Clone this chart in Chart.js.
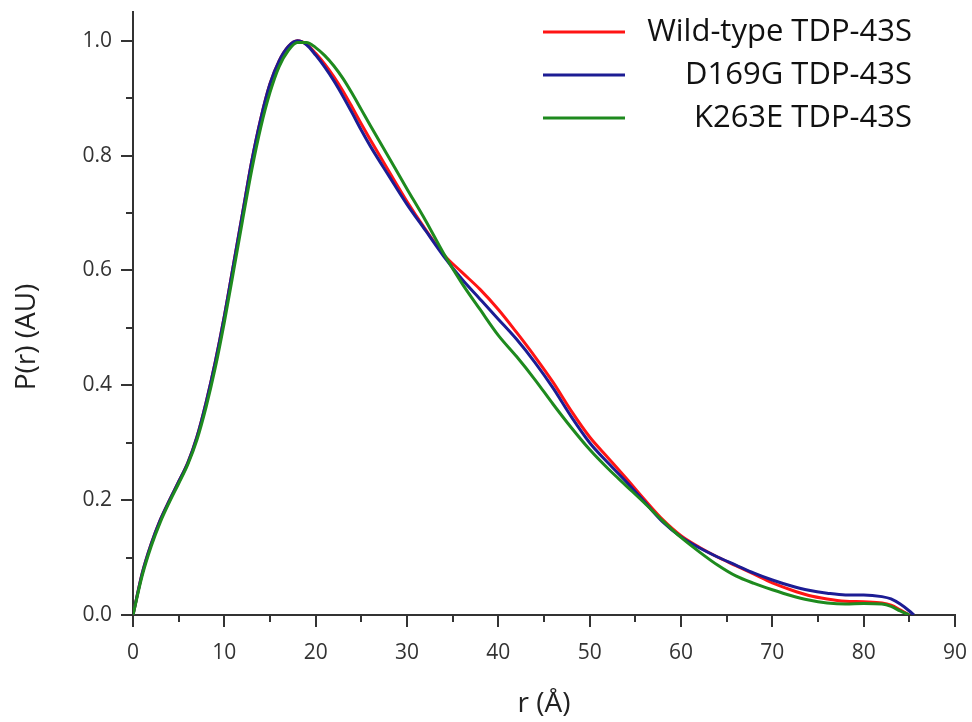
<!DOCTYPE html>
<html>
<head>
<meta charset="utf-8">
<script src="https://cdn.jsdelivr.net/npm/chart.js@4.4.0/dist/chart.umd.min.js"></script>
<style>
  html, body { margin: 0; padding: 0; background: #fff; }
  #wrap { width: 972px; height: 722px; }
</style>
</head>
<body>
<div id="wrap"><canvas id="prChart" width="972" height="722"></canvas></div>
<script>
// r values (Angstrom) shared by all three curves
var rGrid = [0, 1, 2, 3, 4, 5, 6, 7, 8, 9, 10, 11, 12, 13, 14, 15, 16, 17, 18, 19, 20,
  21, 22, 23, 24, 25, 26, 28, 30, 32, 34, 36, 38, 40, 42, 44, 46, 48, 50, 52, 54,
  56, 58, 60, 62, 64, 66, 68, 70, 72, 74, 76, 78, 80, 82, 83, 84, 85, 85.5];

// P(r)
var wildType = [0, 0.072, 0.124, 0.166, 0.2, 0.232, 0.265, 0.31, 0.37, 0.44, 0.52,
  0.61, 0.7, 0.79, 0.865, 0.925, 0.965, 0.99, 1.0, 0.994, 0.978,
  0.959, 0.937, 0.912, 0.884, 0.855, 0.827, 0.773, 0.72, 0.672, 0.628, 0.597, 0.567, 0.532, 0.492, 0.45, 0.405, 0.355, 0.31, 0.274, 0.238,
  0.201, 0.166, 0.138, 0.118, 0.101, 0.086, 0.071, 0.056, 0.044, 0.034, 0.028, 0.024, 0.023, 0.021, 0.017, 0.009, 0, null];

var d169g = [0, 0.072, 0.124, 0.166, 0.2, 0.232, 0.265, 0.31, 0.37, 0.44, 0.52,
  0.61, 0.7, 0.79, 0.865, 0.925, 0.965, 0.99, 1.0, 0.993, 0.975,
  0.954, 0.93, 0.903, 0.874, 0.844, 0.816, 0.765, 0.715, 0.67, 0.625, 0.585, 0.55, 0.515, 0.48, 0.44, 0.395, 0.345, 0.3, 0.265, 0.232,
  0.197, 0.162, 0.136, 0.117, 0.101, 0.087, 0.073, 0.061, 0.051, 0.043, 0.038, 0.035, 0.035, 0.032, 0.028, 0.019, 0.007, 0];

var k263e = [0, 0.068, 0.12, 0.162, 0.197, 0.229, 0.262, 0.305, 0.362, 0.43, 0.51,
  0.598, 0.688, 0.775, 0.85, 0.91, 0.955, 0.983, 0.997, 0.997, 0.988,
  0.974, 0.956, 0.934, 0.908, 0.88, 0.852, 0.797, 0.742, 0.688, 0.63, 0.578, 0.532, 0.487, 0.45, 0.41, 0.367, 0.326, 0.288, 0.255, 0.225,
  0.195, 0.164, 0.135, 0.11, 0.087, 0.068, 0.055, 0.044, 0.034, 0.026, 0.021, 0.019, 0.02, 0.019, 0.015, 0.007, 0, null];

var seriesNames = ["Wild-type TDP-43S", "D169G TDP-43S", "K263E TDP-43S"];
var seriesColors = ["#ff1414", "#1c1c94", "#1e8a1e"];

// minor tick positions
var xMinorTicks = [5, 15, 25, 35, 45, 55, 65, 75, 85];
var yMinorTicks = [0.1, 0.3, 0.5, 0.7, 0.9];

var axisColor = "#333333";
var fontFamily = "'Open Sans', 'Noto Sans', sans-serif";

function toPoints(values) {
  var pts = [];
  for (var i = 0; i < rGrid.length; i++) {
    if (values[i] !== null) pts.push({x: rGrid[i], y: values[i]});
  }
  return pts;
}

// draws minor ticks, the legend on the right and both axis titles
var extrasPlugin = {
  id: 'extras',
  afterDraw: function (chart) {
    var ctx = chart.ctx;
    var xs = chart.scales.x, ys = chart.scales.y;
    ctx.save();
    ctx.strokeStyle = axisColor;
    ctx.lineWidth = 2;
    ctx.beginPath();
    xMinorTicks.forEach(function (v) {
      var px = Math.round(xs.getPixelForValue(v));
      ctx.moveTo(px, xs.top);
      ctx.lineTo(px, xs.top + 7);
    });
    yMinorTicks.forEach(function (v) {
      var py = Math.round(ys.getPixelForValue(v));
      ctx.moveTo(ys.right, py);
      ctx.lineTo(ys.right - 7, py);
    });
    ctx.stroke();

    // legend
    ctx.font = "31px " + fontFamily;
    ctx.textAlign = "right";
    ctx.textBaseline = "middle";
    chart.data.datasets.forEach(function (ds, i) {
      var y = 32 + i * 43;
      ctx.strokeStyle = ds.borderColor;
      ctx.lineWidth = 3;
      ctx.beginPath();
      ctx.moveTo(543, y);
      ctx.lineTo(625, y);
      ctx.stroke();
      ctx.fillStyle = "#111";
      ctx.fillText(ds.label, 912, y);
    });

    // axis titles
    ctx.fillStyle = "#222";
    ctx.font = "28px " + fontFamily;
    ctx.textAlign = "center";
    ctx.fillText("r (Å)", 544, 704);
    ctx.translate(27, 337);
    ctx.rotate(-Math.PI / 2);
    ctx.fillText("P(r) (AU)", 0, 0);
    ctx.restore();
  }
};

var ctx_pr = document.getElementById("prChart").getContext("2d");
var datasets = [wildType, d169g, k263e].map(function (vals, i) {
  return {
    label: seriesNames[i],
    data: toPoints(vals),
    borderColor: seriesColors[i],
    borderWidth: 3,
    pointRadius: 0,
    fill: false,
    cubicInterpolationMode: 'monotone',
    order: 2 - i
  };
});

var prChart = new Chart(ctx_pr, {
  type: 'line',
  data: {datasets: datasets},
  options: {
    responsive: false,
    animation: false,
    events: [],
    layout: {padding: {top: 12, right: 17, left: 0, bottom: 0}},
    plugins: {legend: {display: false}, tooltip: {enabled: false}},
    scales: {
      x: {
        type: 'linear',
        min: 0,
        max: 90,
        afterFit: function (scale) {
          scale.height = 107;
          scale.paddingLeft = 0;
          scale.paddingRight = 0;
        },
        border: {display: true, color: axisColor, width: 2},
        grid: {drawOnChartArea: false, drawTicks: true, tickLength: 12, color: axisColor, lineWidth: 2},
        ticks: {stepSize: 10, color: "#333", padding: 13, maxRotation: 0,
          font: {family: fontFamily, size: 21}}
      },
      y: {
        min: 0,
        max: 1.05,
        afterFit: function (scale) {
          scale.width = 133;
          scale.paddingTop = 0;
          scale.paddingBottom = 0;
        },
        border: {display: true, color: axisColor, width: 2},
        grid: {drawOnChartArea: false, drawTicks: true, tickLength: 12, color: axisColor, lineWidth: 2},
        ticks: {stepSize: 0.2, includeBounds: false, color: "#333", padding: 9,
          font: {family: fontFamily, size: 21},
          callback: function (v) { return v.toFixed(1); }}
      }
    }
  },
  plugins: [extrasPlugin]
});
</script>
</body>
</html>
